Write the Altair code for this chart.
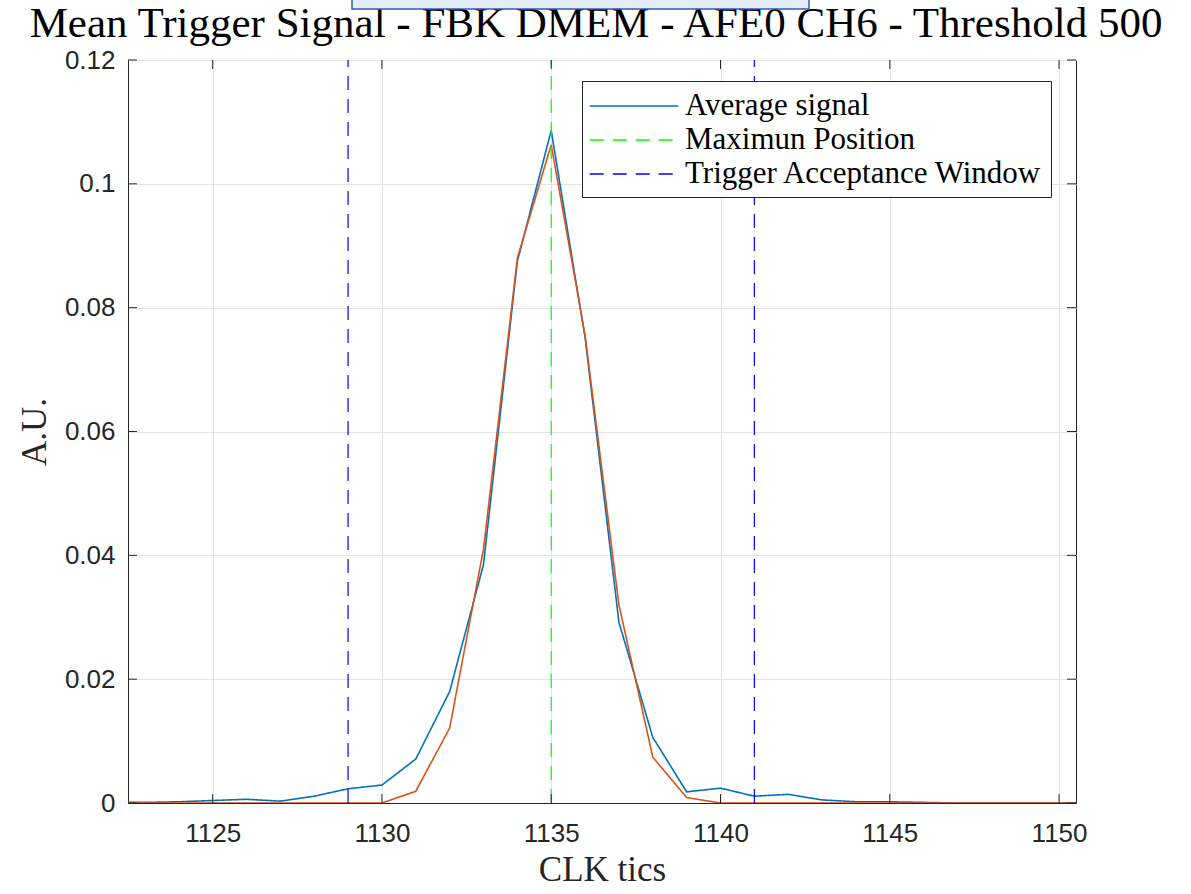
import altair as alt
import pandas as pd

# Clock ticks sampled by the trigger
clk = list(range(1122, 1152))

# Mean trigger signal (blue) and its reference shape (orange)
avg_signal = [0.0001, 0.0001, 0.0002, 0.0004, 0.0006, 0.0003, 0.0011, 0.0023, 0.0029, 0.0071,
              0.0180, 0.0385, 0.0875, 0.1086, 0.0752, 0.0292, 0.0106, 0.0018, 0.0024, 0.0011,
              0.0014, 0.0005, 0.0002, 0.0002, 0.0001, 0.0, 0.0, 0.0, 0.0, 0.0]
fit_signal = [0.0, 0.0, 0.0, 0.0, 0.0, 0.0, 0.0, 0.0, 0.0, 0.0019,
              0.0121, 0.0410, 0.0880, 0.1063, 0.0755, 0.0320, 0.0074, 0.0009, 0.0, 0.0,
              0.0, 0.0, 0.0, 0.0, 0.0, 0.0, 0.0, 0.0, 0.0, 0.0]

# Vertical markers
max_position = [1135]
window_edges = [1129, 1141]

series_names = ["Average signal", "Maximun Position", "Trigger Acceptance Window"]
series_colors = ["#0072BD", "#00FF00", "#0000FF"]
series_dashes = [[1, 0], [14, 9], [14, 9]]

title_text = "Mean Trigger Signal - FBK DMEM - AFE0 CH6 - Threshold 500"

x_ticks = [1125, 1130, 1135, 1140, 1145, 1150]
y_ticks = [0, 0.02, 0.04, 0.06, 0.08, 0.1, 0.12]

W, H = 948, 743
X_DOMAIN = [1122.5, 1150.5]
Y_DOMAIN = [0, 0.12]

avg_df = pd.DataFrame({"clk": clk, "value": avg_signal, "series": series_names[0]})
fit_df = pd.DataFrame({"clk": clk, "value": fit_signal})
vline_df = pd.DataFrame({
    "clk": max_position + window_edges,
    "series": [series_names[1]] + [series_names[2]] * len(window_edges),
})
xt_df = pd.DataFrame({"t": x_ticks})
yt_df = pd.DataFrame({"t": y_ticks})
title_df = pd.DataFrame({"label": [title_text]})

# Long horizontal stroke as the legend key (path scaled by sqrt(symbolSize)/2)
legend = alt.Legend(
    title=None, orient="none", legendX=454, legendY=21, direction="vertical",
    symbolType="M-2.8,0H2.8", symbolSize=1000, symbolStrokeWidth=1.4,
    symbolOffset=27, labelOffset=34, labelLimit=0,
    labelFont="Liberation Serif", labelFontSize=31, labelColor="#000000",
    padding=8, rowPadding=2,
    strokeColor="#262626", fillColor="#FFFFFF", cornerRadius=0,
)
color_enc = alt.Color("series:N", scale=alt.Scale(domain=series_names, range=series_colors), legend=legend)
dash_enc = alt.StrokeDash("series:N", scale=alt.Scale(domain=series_names, range=series_dashes), legend=legend)

x_enc = alt.X(
    "clk:Q",
    scale=alt.Scale(domain=X_DOMAIN, nice=False, zero=False),
    axis=alt.Axis(values=x_ticks, format="d", title="CLK tics", labelPadding=17, titlePadding=6),
)
y_enc = alt.Y(
    "value:Q",
    scale=alt.Scale(domain=Y_DOMAIN, nice=False),
    axis=alt.Axis(values=y_ticks, format="~g", title="A.U.", labelPadding=13, titlePadding=12),
)

avg_line = alt.Chart(avg_df).mark_line(strokeWidth=1.6, clip=True).encode(
    x=x_enc, y=y_enc, color=color_enc, strokeDash=dash_enc
)
fit_line = alt.Chart(fit_df).mark_line(strokeWidth=1.6, clip=True, color="#D95319").encode(
    x="clk:Q", y="value:Q"
)
vlines = alt.Chart(vline_df).mark_rule(strokeWidth=1.2).encode(
    x="clk:Q", y=alt.datum(0), y2=alt.datum(0.12), color=color_enc, strokeDash=dash_enc
)

# Inward tick marks on all four sides of the box
tick_col = "#262626"
xt_bottom = alt.Chart(xt_df).mark_rule(color=tick_col, strokeWidth=1).encode(
    x="t:Q", y=alt.value(H), y2=alt.value(H - 9))
xt_top = alt.Chart(xt_df).mark_rule(color=tick_col, strokeWidth=1).encode(
    x="t:Q", y=alt.value(0), y2=alt.value(9))
yt_left = alt.Chart(yt_df).mark_rule(color=tick_col, strokeWidth=1).encode(
    y="t:Q", x=alt.value(0), x2=alt.value(9))
yt_right = alt.Chart(yt_df).mark_rule(color=tick_col, strokeWidth=1).encode(
    y="t:Q", x=alt.value(W), x2=alt.value(W - 9))

# Figure title
title_mark = alt.Chart(title_df).mark_text(
    font="Liberation Serif", fontSize=43, color="#000000", align="center", baseline="alphabetic"
).encode(text="label:N", x=alt.value(W / 2 - 6), y=alt.value(-23))

# Panel edge peeking in at the top of the figure
top_panel = alt.Chart(pd.DataFrame({"k": [0]})).mark_rect(
    fill="#E4ECF8", stroke="#2F5BB7", strokeWidth=1.5
).encode(x=alt.value(224), x2=alt.value(681), y=alt.value(-64), y2=alt.value(-51))

chart = alt.layer(
    avg_line, fit_line, vlines, xt_bottom, xt_top, yt_left, yt_right, title_mark, top_panel
).properties(
    width=W, height=H,
    autosize=alt.AutoSizeParams(type="none"),
    padding={"left": 128, "top": 60, "right": 115, "bottom": 91},
).configure_view(
    stroke="#262626", strokeWidth=1
).configure_axis(
    labelFont="Liberation Sans", labelFontSize=26, labelColor="#262626",
    titleFont="Liberation Serif", titleFontSize=35, titleFontWeight="normal", titleColor="#262626",
    gridColor="#E3E3E3", gridWidth=1, domainColor="#262626", domainWidth=1,
    tickSize=0,
)

chart.save("out.html", embed_options={"renderer": "svg", "actions": False})
